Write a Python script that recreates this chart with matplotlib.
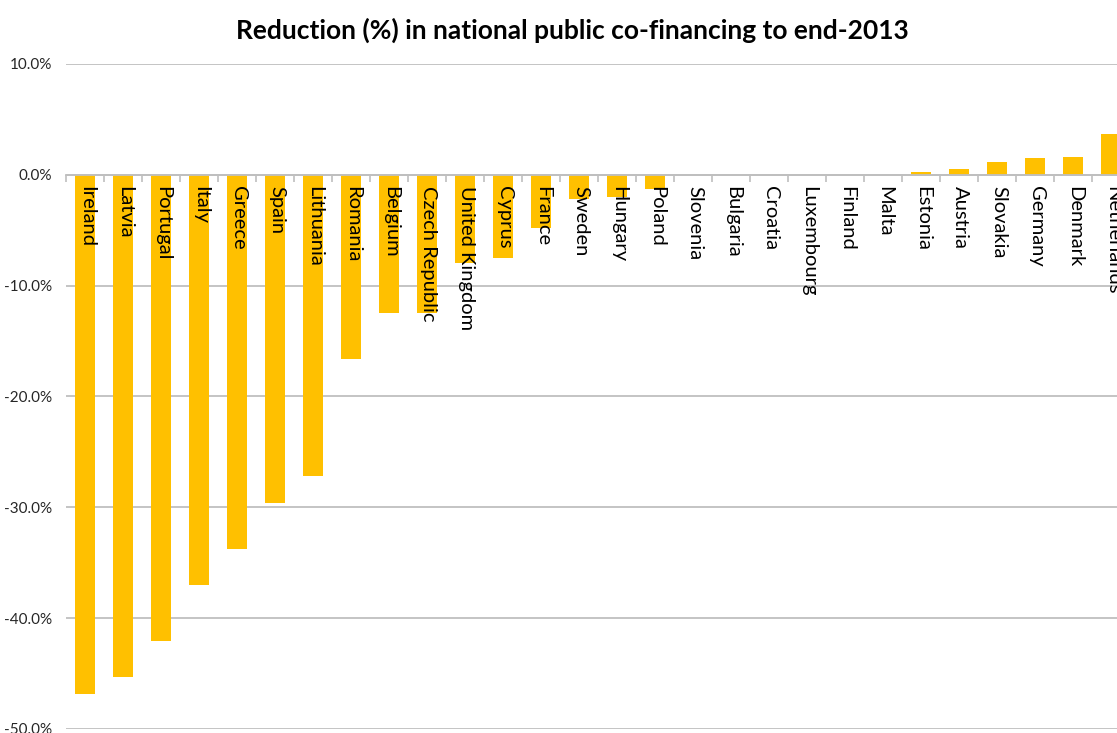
import matplotlib.pyplot as plt
import numpy as np
from matplotlib.ticker import FuncFormatter

countries = ['Ireland', 'Latvia', 'Portugal', 'Italy', 'Greece', 'Spain', 'Lithuania',
             'Romania', 'Belgium', 'Czech Republic', 'United Kingdom', 'Cyprus', 'France',
             'Sweden', 'Hungary', 'Poland', 'Slovenia', 'Bulgaria', 'Croatia', 'Luxembourg',
             'Finland', 'Malta', 'Estonia', 'Austria', 'Slovakia', 'Germany', 'Denmark',
             'Netherlands']
reduction = [-46.8, -45.3, -42.1, -37.0, -33.8, -29.6, -27.2,
             -16.6, -12.5, -12.5, -8.0, -7.5, -4.8,
             -2.2, -2.0, -1.3, 0.0, 0.0, 0.0, 0.0,
             0.0, 0.0, 0.3, 0.55, 1.2, 1.5, 1.65,
             3.7]

plt.rcParams['font.family'] = ['Lato', 'DejaVu Sans']

fig = plt.figure(figsize=(11.17, 7.33), dpi=100)
ax = fig.add_axes([66/1117, 1 - 729/733, 1064/1117, 665/733])

x = np.arange(len(countries))
ax.bar(x, reduction, width=0.53, color='#FFC000', zorder=3)

ax.set_xlim(-0.5, len(countries) - 0.5)
ax.set_ylim(-50, 10)
ax.set_yticks(np.arange(-50, 11, 10))
ax.yaxis.set_major_formatter(FuncFormatter(lambda v, p: f'{v:.1f}%'))
ax.yaxis.grid(True, color='#BFBFBF', linewidth=1.3, zorder=0)
ax.tick_params(axis='y', length=0, labelsize=11, labelcolor='#262626', pad=10)

for s in ['top', 'right', 'left']:
    ax.spines[s].set_visible(False)
ax.spines['bottom'].set_position(('data', 0))
ax.spines['bottom'].set_color('#BFBFBF')
ax.spines['bottom'].set_linewidth(1.3)
ax.spines['bottom'].set_zorder(4)

# category labels drawn on top of the bars
ax.set_xticks(x)
ax.set_xticklabels([])
ax.tick_params(axis='x', which='major', length=0)
ax.set_xticks(np.arange(-0.5, len(countries), 1), minor=True)
ax.tick_params(axis='x', which='minor', length=5, width=1.2, color='#BFBFBF', direction='out')
for i, name in enumerate(countries):
    ax.annotate(name, (i, 0), xytext=(1, -8), textcoords='offset points',
                rotation=270, ha='center', va='top', fontsize=14.5, zorder=5,
                annotation_clip=False)

fig.text(0.512, 0.959, 'Reduction (%) in national public co-financing to end-2013',
         ha='center', va='center', fontsize=19, fontweight='bold')

fig.savefig('out.png', dpi=100)
